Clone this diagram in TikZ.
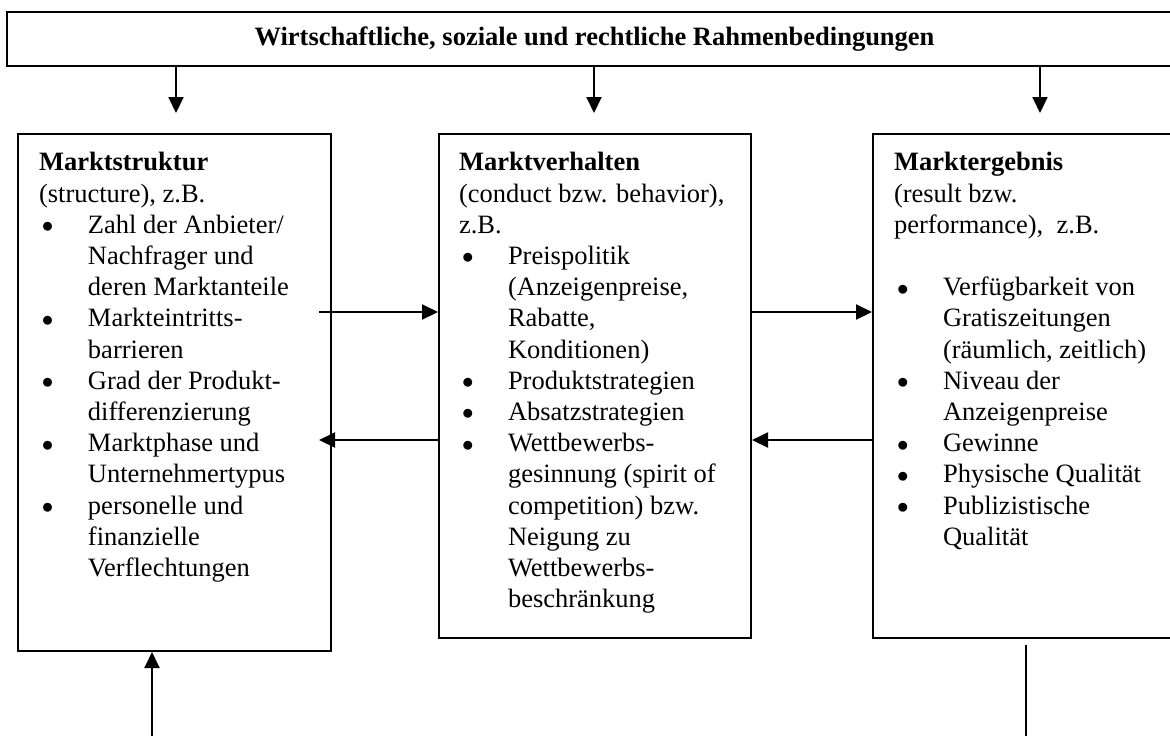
\documentclass[tikz,border=0pt]{standalone}
\usepackage{fontspec}
\setmainfont{Liberation Serif}
\usepackage{tikz}
\usetikzlibrary{arrows.meta}

\newcommand{\whole}[1]{\multicolumn{2}{@{}l@{}}{#1}}
\newcommand{\bul}{\hspace{1.5pt}\raisebox{0.3pt}{\scalebox{0.8}{$\bullet$}}}

\begin{document}
\begin{tikzpicture}[x=0.5pt, y=-0.5pt, line width=1pt,
    >={Triangle[length=8pt,width=7.5pt]}]
            \useasboundingbox (0,0) rectangle (1170,736);

            \tikzstyle{myBox}=[draw, rectangle, inner sep=0pt, anchor=north west];
            \tikzstyle{myText}=[anchor=north west, inner sep=0pt, align=left,
                font=\fontsize{13.25}{15.6}\selectfont];

            \node[myBox, anchor=center, minimum width=587.5pt, minimum height=27pt,
                font=\fontsize{13.25}{15.6}\selectfont\bfseries] (rahmen) at (594.5,39)
                {Wirtschaftliche, soziale und rechtliche Rahmenbedingungen};

            \node[myBox, minimum width=156.5pt, minimum height=258.5pt] (struktur) at (17,133) {};
            \node[myBox, minimum width=156pt, minimum height=252pt] (verhalten) at (438,133) {};
            \node[myBox, minimum width=155pt, minimum height=252pt] (ergebnis) at (872,133) {};

            \node[myText] (strukturText) at (38,148) {%
                \begin{tabular}{@{}p{24.5pt}@{}l@{}}
                \whole{\textbf{Marktstruktur}}\\
                \whole{(structure), z.B.}\\
                \bul & Zahl der Anbieter/\\
                     & Nachfrager und\\
                     & deren Marktanteile\\
                \bul & Markteintritts-\\
                     & barrieren\\
                \bul & Grad der Produkt-\\
                     & differenzierung\\
                \bul & Marktphase und\\
                     & Unternehmertypus\\
                \bul & personelle und\\
                     & finanzielle\\
                     & Verflechtungen
                \end{tabular}};

            \node[myText] (verhaltenText) at (458,148) {%
                \begin{tabular}{@{}p{24.5pt}@{}l@{}}
                \whole{\textbf{Marktverhalten}}\\
                \whole{(conduct bzw. behavior),}\\
                \whole{z.B.}\\
                \bul & Preispolitik\\
                     & (Anzeigenpreise,\\
                     & Rabatte,\\
                     & Konditionen)\\
                \bul & Produktstrategien\\
                \bul & Absatzstrategien\\
                \bul & Wettbewerbs-\\
                     & gesinnung (spirit of\\
                     & competition) bzw.\\
                     & Neigung zu\\
                     & Wettbewerbs-\\
                     & beschränkung
                \end{tabular}};

            \node[myText] (ergebnisText) at (893,148) {%
                \begin{tabular}{@{}p{24.5pt}@{}l@{}}
                \whole{\textbf{Marktergebnis}}\\
                \whole{(result bzw.}\\
                \whole{performance),\ \ z.B.}\\
                     & \\
                \bul & Verfügbarkeit von\\
                     & Gratiszeitungen\\
                     & (räumlich, zeitlich)\\
                \bul & Niveau der\\
                     & Anzeigenpreise\\
                \bul & Gewinne\\
                \bul & Physische Qualität\\
                \bul & Publizistische\\
                     & Qualität
                \end{tabular}};

            % Einfluss der Rahmenbedingungen
            \coordinate (inL) at (176,113);
            \coordinate (inM) at (594,113);
            \coordinate (inR) at (1040,113);
            \draw[->] (rahmen.south -| inL) -- (inL);
            \draw[->] (rahmen.south -| inM) -- (inM);
            \draw[->] (rahmen.south -| inR) -- (inR);

            % Wechselwirkungen
            \coordinate (hin) at (319,312);
            \coordinate (rueck) at (319,440);
            \draw[->] (hin) -- (verhalten.west |- hin);
            \draw[->] (verhalten.east |- hin) -- (ergebnis.west |- hin);
            \draw[->] (ergebnis.west |- rueck) -- (verhalten.east |- rueck);
            \draw[->] (verhalten.west |- rueck) -- (rueck);

            % Rueckkopplung
            \coordinate (untenL) at (152,736);
            \coordinate (untenR) at (1026,736);
            \draw[->] (untenL) -- (struktur.south -| untenL);
            \draw[shorten <=3pt] (ergebnis.south -| untenR) -- (untenR);
         \end{tikzpicture}
\end{document}
